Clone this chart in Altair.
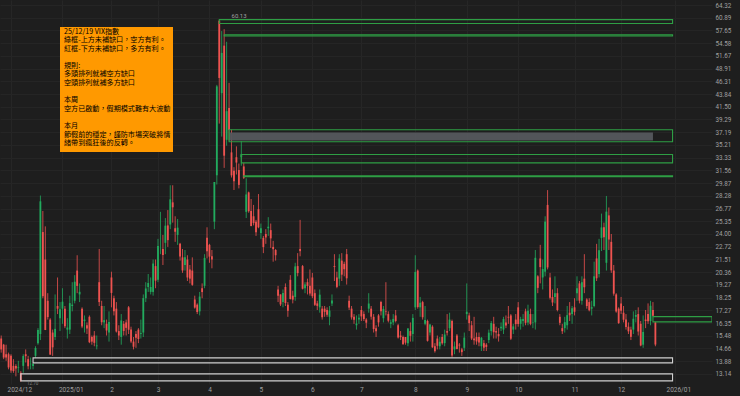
import altair as alt
import pandas as pd

# ---- daily VIX candles [open, high, low, close], one list per month ----
NOV24 = [[15.3,15.5,14.4,14.60],[14.9,14.95,14.0,14.10],[14.3,14.9,13.9,14.10],[14.3,14.4,13.4,13.51]]
DEC24 = [[14.2,14.3,13.2,13.34],[13.6,14.0,13.2,13.30],[13.6,13.7,13.0,13.45],[13.5,13.9,13.2,13.54],
         [13.2,13.3,12.70,12.77],[13.6,14.3,13.2,14.19],[14.3,14.6,13.8,14.18],[14.0,14.2,13.4,13.58],
         [13.7,14.1,13.4,13.72],[13.6,13.78,13.4,13.71],[14.2,14.8,14.08,14.69],[15.0,16.0,14.9,15.87],
         [15.6,28.32,15.2,27.62],[24.2,26.5,18.2,18.36],[21.5,24.8,15.9,15.87],[18.0,18.6,16.6,16.78],
         [16.6,16.7,14.3,14.27],[15.7,15.9,14.2,14.73],[15.4,18.5,15.2,15.95],[17.6,19.9,17.0,17.40],
         [16.7,17.9,15.8,17.35]]
JAN25 = [[17.4,19.0,16.3,17.93],[17.4,17.6,16.0,16.13],[15.9,16.7,15.3,16.04],[15.9,18.4,15.6,17.82],
         [17.6,19.5,17.2,17.70],[18.0,20.1,17.8,19.54],[20.5,21.9,18.6,19.19],[18.5,19.4,17.9,18.71],
         [17.4,17.5,16.0,16.12],[16.5,16.9,15.7,16.60],[16.2,16.4,15.6,15.97],[16.8,16.9,15.0,15.06],
         [15.4,15.5,14.9,15.10],[15.5,15.8,14.8,15.02],[14.8,15.5,14.6,14.85],[19.5,22.5,17.6,17.90],
         [17.6,18.0,16.2,16.41],[16.4,17.6,16.0,16.56],[16.3,16.6,15.5,15.84],[15.7,17.2,15.1,16.43]]
FEB25 = [[19.9,20.4,17.5,18.62],[18.2,18.4,16.9,17.21],[17.4,17.9,15.7,15.77],[15.8,16.2,15.2,15.50],
         [15.4,17.0,14.9,16.54],[16.3,16.5,15.5,15.81],[16.4,16.6,15.5,16.02],[17.5,17.6,15.6,15.89],
         [15.9,16.1,15.0,15.10],[15.1,15.4,14.6,14.77],[15.6,15.8,14.7,15.35],[15.9,16.0,15.0,15.27],
         [15.6,16.6,15.3,15.66],[15.7,18.5,15.4,18.21],[18.2,19.5,17.9,18.98],[19.1,20.2,18.7,19.43],
         [18.7,19.9,18.5,19.10],[18.7,21.5,18.4,21.13],[20.9,21.5,19.0,19.63]]
MAR25 = [[19.7,23.5,19.5,22.78],[23.5,26.4,22.0,23.51],[22.5,23.9,21.0,21.93],[23.1,25.7,22.0,24.87],
         [24.9,26.6,22.7,23.37],[25.0,29.6,24.5,27.86],[27.5,29.6,25.2,26.92],[24.6,25.9,23.2,24.23],
         [23.9,25.6,22.9,24.66],[23.0,23.1,21.4,21.77],[21.7,22.5,20.3,20.51],[21.0,22.4,20.5,21.70],
         [21.5,21.9,19.6,19.90],[20.6,21.0,19.4,19.80],[20.5,21.7,19.2,19.28],[18.1,18.4,17.4,17.48],
         [17.7,17.8,17.0,17.15],[17.2,18.7,16.9,18.33],[19.0,19.4,18.2,18.69],[19.2,22.0,19.0,21.65],
         [23.6,24.7,21.6,22.28]]
APR25 = [[22.9,23.0,21.2,21.77],[21.8,22.4,20.7,21.51],[25.3,30.0,24.5,30.02],[30.9,45.6,29.7,45.31],
         [60.13,60.13,38.6,46.98],[44.0,57.5,36.5,52.33],[54.0,57.96,31.9,33.62],[36.0,54.9,35.1,40.72],
         [41.3,46.0,35.9,37.56],[34.1,37.6,30.6,30.89],[31.5,32.0,29.0,30.12],[33.4,35.0,31.0,32.64],
         [31.6,32.5,29.2,29.65],[33.4,35.8,32.2,33.82],[32.1,32.6,30.4,30.57],[26.4,30.5,25.7,28.45],
         [28.7,28.8,26.3,26.47],[26.5,27.9,24.8,24.84],[25.9,27.2,24.9,25.15],[25.3,25.5,23.8,24.17],
         [26.7,28.5,24.6,24.70]]
MAY25 = [[24.1,25.1,23.5,24.60],[23.6,23.8,22.1,22.68],[24.0,24.5,23.0,23.64],[24.6,25.8,23.8,24.76],
         [24.4,25.1,22.6,23.55],[22.7,23.3,21.3,22.48],[22.4,22.5,21.4,21.90],[18.9,19.2,17.9,18.39],
         [18.5,18.5,17.6,17.72],[17.9,18.9,17.5,18.62],[19.1,19.4,17.6,17.83],[17.7,17.9,16.8,17.24],
         [19.7,20.1,18.1,18.14],[18.4,18.8,17.8,18.09],[18.3,21.2,18.0,20.87],[20.9,22.1,20.0,20.28],
         [22.5,25.5,21.8,22.29],[20.9,21.0,18.9,18.96],[19.0,19.5,18.6,19.31],[19.5,19.8,18.5,19.18],
         [19.2,20.6,18.4,18.57]]
JUN25 = [[19.9,20.3,18.2,18.36],[18.6,18.9,17.6,17.69],[17.8,18.0,17.3,17.61],[17.5,18.9,17.1,18.48],
         [17.4,17.6,16.6,16.77],[17.4,17.6,16.8,17.16],[17.3,17.5,16.8,16.95],[16.8,17.6,16.2,17.26],
         [17.8,18.5,17.6,18.02],[20.9,22.0,19.6,20.82],[19.9,20.4,19.0,19.11],[19.8,22.0,19.2,21.60],
         [21.4,22.1,19.6,20.14],[21.1,21.3,20.0,20.62],[22.0,22.5,19.3,19.83],[18.0,18.4,17.3,17.48],
         [17.4,17.6,16.6,16.76],[16.8,17.0,16.3,16.59],[16.2,16.9,15.9,16.32],[16.6,17.0,16.3,16.73]]
JUL25 = [[17.3,17.6,16.5,16.83],[17.0,17.2,16.5,16.64],[16.6,16.7,16.0,16.38],[17.4,18.6,17.1,17.79],
         [17.4,17.6,16.6,16.81],[16.8,17.0,15.7,15.94],[16.0,16.2,15.4,15.78],[16.9,17.0,16.1,16.40],
         [17.9,18.0,16.9,17.20],[16.7,17.6,16.4,17.38],[17.2,19.5,16.9,17.16],[17.0,17.2,16.4,16.52],
         [16.3,16.6,16.0,16.41],[16.4,17.0,16.2,16.65],[16.9,17.3,16.4,16.50],[16.2,16.3,15.3,15.37],
         [15.5,15.8,15.2,15.39],[15.4,15.5,14.9,14.93],[15.4,15.4,14.9,15.03],[15.0,16.0,14.8,15.98],
         [15.8,16.4,15.1,15.48],[15.6,17.0,15.1,16.72]]
AUG25 = [[17.5,21.9,17.3,20.38],[20.5,20.6,17.4,17.52],[17.5,18.3,16.8,17.85],[17.9,18.0,16.6,16.77],
         [16.3,17.6,16.2,16.57],[16.5,16.6,15.1,15.15],[15.7,16.3,15.5,16.25],[16.1,16.2,14.7,14.73],
         [14.8,15.0,14.4,14.49],[15.3,15.5,14.6,14.83],[14.8,15.4,14.6,15.09],[15.4,15.6,14.9,14.99],
         [15.0,15.9,14.8,15.57],[15.8,17.0,15.5,15.69],[16.0,17.1,15.8,16.60],[16.5,16.6,14.1,14.22],
         [14.6,15.1,14.3,14.79],[15.5,15.6,14.6,14.62],[14.9,15.0,14.4,14.85],[14.6,14.7,14.2,14.43],
         [14.7,15.7,14.5,15.36]]
SEP25 = [[17.0,19.4,16.6,17.17],[16.9,17.1,15.8,16.35],[16.2,16.5,15.2,15.30],[15.3,16.8,14.9,15.18],
         [15.4,15.7,14.9,15.11],[15.4,15.7,14.8,15.04],[14.8,15.4,14.5,15.35],[15.0,15.2,14.5,14.71],
         [14.9,15.0,14.5,14.76],[15.2,15.9,15.0,15.69],[15.8,16.5,15.5,16.36],[16.3,16.8,15.3,15.72],
         [15.8,16.1,15.3,15.70],[15.6,16.0,15.1,15.45],[16.0,16.4,15.8,16.10],[15.9,16.8,15.6,16.64],
         [16.4,16.9,16.0,16.18],[16.8,17.6,16.3,16.74],[16.9,17.0,15.2,15.29],[15.9,16.3,15.6,16.12],
         [16.6,17.0,15.9,16.28]]
OCT25 = [[17.5,17.9,16.1,16.29],[16.3,16.8,15.9,16.63],[16.5,17.0,16.1,16.65],[17.2,17.4,16.2,16.37],
         [16.4,17.7,16.2,17.24],[17.0,17.4,16.2,16.30],[16.4,17.0,16.0,16.43],[16.4,22.4,15.9,21.66],
         [20.0,20.1,18.6,19.03],[21.6,22.9,19.4,20.81],[19.9,21.5,18.9,20.64],[20.4,25.9,20.0,25.31],
         [27.2,28.99,20.6,20.78],[19.9,20.3,18.1,18.23],[18.3,18.9,17.6,17.87],[18.3,20.0,17.8,18.60],
         [18.6,19.0,17.2,17.30],[16.8,17.0,16.2,16.37],[16.0,16.3,15.6,15.79],[16.0,16.8,15.7,16.42],
         [16.2,17.6,15.9,16.92],[17.1,17.9,16.5,16.91],[17.0,17.6,16.3,17.44]]
NOV25 = [[17.5,18.2,16.9,17.17],[18.6,20.0,18.0,19.00],[19.4,19.6,17.8,18.01],[18.0,20.0,17.7,19.50],
         [19.8,22.0,18.6,19.08],[18.1,18.2,17.4,17.60],[17.9,18.2,17.2,17.28],[17.4,18.0,16.9,17.51],
         [17.6,21.3,17.5,20.00],[21.6,23.0,19.6,19.83],[20.2,23.5,19.9,22.38],[23.6,26.2,22.3,24.69],
         [24.7,25.2,22.4,23.66],[21.2,28.27,20.5,26.42],[26.0,26.9,22.4,23.43],[23.2,24.0,20.3,20.52],
         [20.5,21.0,18.4,18.56],[18.5,18.6,17.1,17.19],[17.4,17.5,16.3,16.35]]
DEC25 = [[17.8,18.3,17.0,17.24],[17.1,17.6,16.4,16.59],[16.6,17.0,15.9,16.08],[16.1,16.4,15.6,15.78],
         [15.9,16.1,15.2,15.41],[15.9,17.2,15.6,16.66],[16.8,17.3,16.4,16.93],[17.0,17.5,15.5,15.77],
         [16.3,16.5,14.8,14.85],[14.9,16.9,14.7,15.74],[16.6,17.3,16.0,16.50],[17.0,17.8,16.3,16.48],
         [16.5,18.0,16.2,17.62],[17.3,17.9,16.81,16.87],[16.4,16.44,14.8,14.91]]

MONTHS = [NOV24, DEC24, JAN25, FEB25, MAR25, APR25, MAY25, JUN25, JUL25, AUG25, SEP25, OCT25, NOV25, DEC25]
TICK_LABELS = ["2024/12", "2025/01", "2", "3", "4", "5", "6", "7", "8", "9", "10", "11", "12", "2026/01"]
DEC25_DAYS_LEFT = 7  # trading days after 12/19 before 2026/01

Y_TICKS = [64.32, 60.89, 57.65, 54.58, 51.67, 48.91, 46.31, 43.84, 41.50, 39.29, 37.19, 35.21,
           33.33, 31.56, 29.87, 28.28, 26.77, 25.35, 24.00, 22.72, 21.51, 20.36, 19.27, 18.25,
           17.27, 16.35, 15.48, 14.66, 13.88, 13.14]

# gap boxes: (start day index, low, high, kind)
GAP_BOXES = [
    (89, 59.4, 60.4, "green"),
    (91, 56.3, 56.6, "green"),
    (93, 35.7, 37.6, "green"),
    (98, 32.6, 33.8, "green"),
    (99, 30.7, 30.82, "green"),
    (266, 16.44, 16.81, "green_r"),
    (13, 13.78, 14.08, "white"),
    (8, 12.75, 13.14, "white"),
]
GRAY_BAR = (93, 266, 35.9, 37.15)

# note text, in paragraphs (blank line between paragraphs)
NOTE_P1 = ["25/12/19 VIX指數", "綠框-上方未補缺口，空方有利。", "紅框-下方未補缺口，多方有利。"]
NOTE_P2 = ["規則:", "多頭排列就補空方缺口", "空頭排列就補多方缺口"]
NOTE_P3 = ["本周", "空方已啟動，假期模式難有大波動"]
NOTE_P4 = ["本月", "節假前的穩定，謹防市場突破將情", "緒帶到瘋狂後的反轉。"]

# ---- build tables ----
rows = []
tick_idx = []
for m in MONTHS:
    tick_idx.append(len(rows))
    for o, h, l, c in m:
        rows.append({"o": o, "h": h, "l": l, "c": c})
n = len(rows)
tick_idx = tick_idx[1:] + [n + DEC25_DAYS_LEFT]
df = pd.DataFrame(rows)
df["i"] = range(n)
df["dir"] = ["up" if c >= o else "down" for o, c in zip(df.o, df.c)]

X_DOM = [-0.49, 290.1]
BOX_END = n + 6
boxes = pd.DataFrame([
    {"i": s, "e": (X_DOM[1] if k == "green_r" else BOX_END), "l": lo, "h": hi,
     "kind": "white" if k == "white" else "green"}
    for s, lo, hi, k in GAP_BOXES
])
gray = pd.DataFrame([{"i": GRAY_BAR[0], "e": GRAY_BAR[1], "l": GRAY_BAR[2], "h": GRAY_BAR[3]}])

GREEN, RED = "#22ab5e", "#ef5350"
xs = alt.Scale(domain=X_DOM, nice=False, zero=False)
ys = alt.Scale(type="log", domain=[12.58, 65.72], nice=False)

cond_long = "datum.value < 30 || datum.value > 270"
x_axis = alt.Axis(
    values=tick_idx,
    labelExpr=f"{TICK_LABELS}[indexof({tick_idx}, datum.value)]",
    title=None, domain=False, ticks=False, grid=True, gridColor="#262626",
    labelColor="#a0a0a0", labelFontSize=6.5, labelFont="Roboto", labelPadding=2,
    labelFlush=False,
    labelAlign={"condition": {"test": cond_long, "value": "left"}, "value": "center"},
    labelOffset={"condition": [{"test": "datum.value > 270", "value": -9},
                               {"test": "datum.value < 30", "value": -4}], "value": 0},
)
y_axis = alt.Axis(
    values=Y_TICKS, format=".2f", orient="right", title=None, domain=False, ticks=False,
    grid=True, gridColor="#252525", labelColor="#a0a0a0", labelFontSize=6.3,
    labelFont="Roboto", labelPadding=3,
)
X = alt.X("i:Q", scale=xs, axis=x_axis)
Y = alt.Y("l:Q", scale=ys, axis=y_axis)
color = alt.Color("dir:N", scale=alt.Scale(domain=["up", "down"], range=[GREEN, RED]), legend=None)

wicks = alt.Chart(df).mark_rule(strokeWidth=0.8).encode(x=X, y=Y, y2="h:Q", color=color)
bodies = alt.Chart(df).mark_rule(strokeWidth=1.8).encode(
    x=X, y=alt.Y("o:Q", scale=ys, axis=y_axis), y2="c:Q", color=color)
gray_bar = alt.Chart(gray).mark_rect(color="#55585d", opacity=0.95).encode(
    x=X, x2="e:Q", y=Y, y2="h:Q")
box_marks = alt.Chart(boxes).mark_rect(fill="transparent", strokeWidth=1.1, clip=True).encode(
    x=X, x2="e:Q", y=Y, y2="h:Q",
    stroke=alt.Stroke("kind:N", scale=alt.Scale(domain=["green", "white"], range=["#2e9e44", "#d0d0d0"]), legend=None),
)

hi_lbl = pd.DataFrame([{"i": 94, "l": 60.13, "t": "60.13"}])
lo_lbl = pd.DataFrame([{"i": 10.5, "l": 12.70, "t": "12.70"}])
hi_text = alt.Chart(hi_lbl).mark_text(align="left", baseline="bottom", dy=-2, fontSize=6,
                                      color="#a0a0a0", font="Roboto").encode(x=X, y=Y, text="t:N")
lo_text = alt.Chart(lo_lbl).mark_text(align="left", baseline="top", dy=-1, fontSize=4.5,
                                      color="#808080", font="Roboto").encode(x=X, y=Y, text="t:N")

one = pd.DataFrame([{"k": 1}])
note_box = alt.Chart(one).mark_rect(color="#ff9900").encode(
    x=alt.value(60), x2=alt.value(173), y=alt.value(27), y2=alt.value(152))

LINE_H = 8.6
TOP = 27.5
note_layers = []
for start_line, para in [(0, NOTE_P1), (4, NOTE_P2), (8, NOTE_P3), (11, NOTE_P4)]:
    note_layers.append(
        alt.Chart(one).mark_text(align="left", baseline="top", fontSize=7.1, lineHeight=LINE_H,
                                 color="#000000", font="Noto Sans CJK TC").encode(
            x=alt.value(64), y=alt.value(TOP + start_line * LINE_H), text=alt.value(para))
    )

chart = alt.layer(
    wicks, bodies, gray_bar, box_marks, hi_text, lo_text, note_box, *note_layers
).properties(
    width=712, height=384,
    background="#1e1e1e",
    padding={"left": 0, "top": 0, "right": 28, "bottom": 12},
    autosize=alt.AutoSizeParams(type="none"),
).configure_view(stroke=None)

chart.save("out.html", embed_options={"renderer": "svg", "actions": False})
